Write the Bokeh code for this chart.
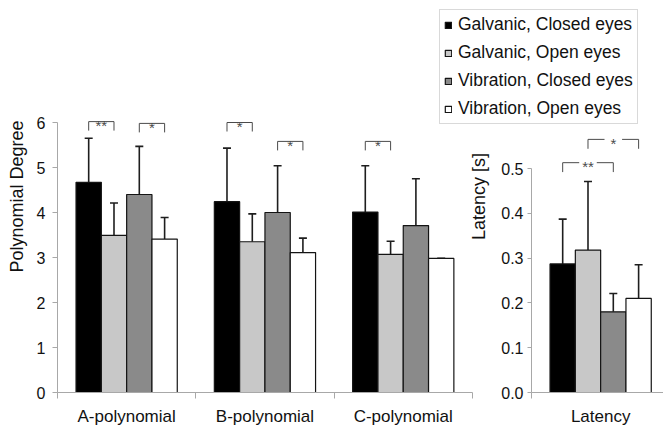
from bokeh.plotting import figure
from bokeh.models import (ColumnDataSource, FixedTicker, Whisker, TeeHead, Legend,
                          LegendItem, PrintfTickFormatter, Range1d)
from bokeh.layouts import row
from bokeh.embed import file_html
from bokeh.resources import INLINE
from bokeh.core.properties import value

# ---------------- data ----------------
categories = ["A-polynomial", "B-polynomial", "C-polynomial"]
series_names = ["Galvanic, Closed eyes", "Galvanic, Open eyes",
                "Vibration, Closed eyes", "Vibration, Open eyes"]

galv_closed = [4.67, 4.24, 4.01]
galv_closed_sd = [0.98, 1.19, 1.03]
galv_open = [3.49, 3.35, 3.07]
galv_open_sd = [0.72, 0.62, 0.29]
vib_closed = [4.40, 4.00, 3.71]
vib_closed_sd = [1.07, 1.04, 1.04]
vib_open = [3.41, 3.11, 2.98]
vib_open_sd = [0.48, 0.32, 0.0]

latency_category = ["Latency"]
latency = [0.287, 0.318, 0.180, 0.210]
latency_sd = [0.100, 0.153, 0.041, 0.075]

poly_y_ticks = [0, 1, 2, 3, 4, 5, 6]
lat_y_ticks = [0.0, 0.1, 0.2, 0.3, 0.4, 0.5]

# significance brackets: (category index, bar i, bar j, height, label)
poly_sig = [(0, 0, 1, 6.02, "**"), (0, 2, 3, 5.98, "*"), (1, 0, 1, 6.00, "*"),
            (1, 2, 3, 5.58, "*"), (2, 0, 1, 5.58, "*")]
lat_sig = [(0, 0, 2, 0.513, "**"), (0, 1, 3, 0.565, "*")]

poly_values = [galv_closed, galv_open, vib_closed, vib_open]
poly_sds = [galv_closed_sd, galv_open_sd, vib_closed_sd, vib_open_sd]

# ---------------- styles ----------------
FONT = "Liberation Sans"
FILLS = ["#000000", "#c8c8c8", "#8a8a8a", "#ffffff"]
OFFSETS = [-0.2745, -0.0915, 0.0915, 0.2745]
BAR_W = 0.183
AXIS_COL = "#a8a8a8"
ERR_COL = "#1e1e1e"
SIG_COL = "#4a4a4a"
PX_PER_CAT = 138.3

TOTAL_W = 663
FRAME_H = 392      # frame spans y 0..392 of the page
BOTTOM = 36
P1_LEFT = 57       # polynomial y axis position
P2_AXIS = 531      # latency y axis position
P2_START = 463     # left edge of the overlaid latency canvas


def style_axes(p):
    p.xgrid.visible = False
    p.ygrid.visible = False
    p.outline_line_color = None
    for ax in p.xaxis + p.yaxis:
        ax.axis_line_color = AXIS_COL
        ax.major_tick_line_color = AXIS_COL
        ax.minor_tick_line_color = AXIS_COL
        ax.major_label_text_font = FONT
        ax.major_label_text_color = "#111111"
        ax.axis_label_text_font = FONT
        ax.axis_label_text_font_style = "normal"
        ax.axis_label_text_font_size = "18px"
        ax.axis_label_text_color = "#111111"
    for ax in p.xaxis:
        ax.major_tick_out = 0
        ax.major_tick_in = 0
        ax.minor_tick_out = 6
        ax.minor_tick_in = 0
        ax.major_label_text_font_size = "17px"
        ax.major_label_standoff = 8
    for ax in p.yaxis:
        ax.major_tick_in = 0
        ax.minor_tick_line_color = None
        ax.major_label_text_font_size = "16px"


def add_brackets(p, sig, centers_of, leg, gap, text_off):
    x0s, y0s, x1s, y1s = [], [], [], []
    tx, ty, tt = [], [], []
    for (c, i, j, h, lab) in sig:
        xa, xb = centers_of(c, i), centers_of(c, j)
        xm = (xa + xb) / 2
        x0s += [xa, xb]
        y0s += [h - leg, h - leg]
        x1s += [xa, xb]
        y1s += [h, h]
        if gap > 0:
            x0s += [xa, xm + gap / 2]
            x1s += [xm - gap / 2, xb]
            y0s += [h, h]
            y1s += [h, h]
        else:
            x0s.append(xa)
            x1s.append(xb)
            y0s.append(h)
            y1s.append(h)
        tx.append(xm)
        ty.append(h)
        tt.append(lab)
    p.segment(x0=x0s, y0=y0s, x1=x1s, y1=y1s, line_color=SIG_COL, line_width=1)
    p.text(x=tx, y=ty, text=tt, text_font=value(FONT), text_font_size="15px",
           text_align="center", text_baseline="alphabetic", y_offset=text_off,
           text_color=SIG_COL)


# ---------------- polynomial panel (also holds the legend) ----------------
p1_frame_w = TOTAL_W - P1_LEFT
p1 = figure(frame_width=p1_frame_w, frame_height=FRAME_H,
            x_range=Range1d(0, p1_frame_w / PX_PER_CAT),
            y_range=Range1d(0, FRAME_H / 45.0),
            min_border_left=P1_LEFT, min_border_right=0, min_border_top=0,
            min_border_bottom=BOTTOM, output_backend="svg", toolbar_location=None)

items = []
for s in range(4):
    xs = [i + 0.5 + OFFSETS[s] for i in range(len(categories))]
    vals = poly_values[s]
    ups = [v + e for v, e in zip(vals, poly_sds[s])]
    src = ColumnDataSource(dict(x=xs, top=vals, upper=ups))
    r = p1.vbar(x="x", top="top", bottom=0, width=BAR_W, source=src,
                fill_color=FILLS[s], line_color="#141414", line_width=1.2)
    p1.add_layout(Whisker(source=src, base="x", upper="upper", lower="top",
                          dimension="height", line_color=ERR_COL, line_width=1.6,
                          upper_head=TeeHead(size=8, line_color=ERR_COL, line_width=1.6),
                          lower_head=None))
    items.append(LegendItem(label=series_names[s], renderers=[r]))

add_brackets(p1, poly_sig, lambda c, i: c + 0.5 + OFFSETS[i], leg=0.2, gap=0, text_off=4)

p1.yaxis.axis_label = "Polynomial Degree"
p1.yaxis.ticker = FixedTicker(ticks=poly_y_ticks)
p1.yaxis.bounds = (poly_y_ticks[0], poly_y_ticks[-1])
p1.yaxis.major_tick_out = 5
p1.yaxis.major_label_standoff = 7
p1.yaxis.axis_label_standoff = 7
p1.xaxis.ticker = FixedTicker(ticks=[i + 0.5 for i in range(len(categories))],
                              minor_ticks=list(range(len(categories) + 1)))
p1.xaxis.major_label_overrides = {i + 0.5: c for i, c in enumerate(categories)}
p1.xaxis.bounds = (0, len(categories))
style_axes(p1)

legend = Legend(items=items, location=(439 - P1_LEFT, FRAME_H - 124), margin=0,
                padding=4, spacing=7, label_height=21, glyph_width=8, glyph_height=8,
                label_standoff=6, label_text_font=FONT, label_text_font_size="17.5px",
                label_text_color="#111111", border_line_color="#b4b4b4",
                border_line_width=1, background_fill_color="white",
                background_fill_alpha=1.0)
p1.add_layout(legend)

# ---------------- latency panel (overlaid, transparent) ----------------
p2_border = P2_AXIS - P2_START
p2_frame_w = TOTAL_W - P2_AXIS
p2 = figure(frame_width=p2_frame_w, frame_height=FRAME_H,
            x_range=Range1d(0, p2_frame_w / PX_PER_CAT),
            y_range=Range1d(0, FRAME_H / 448.0),
            min_border_left=p2_border, min_border_right=0, min_border_top=0,
            min_border_bottom=BOTTOM, output_backend="svg", toolbar_location=None,
            background_fill_color=None, border_fill_color=None)

for s in range(4):
    src = ColumnDataSource(dict(x=[0.5 + OFFSETS[s]], top=[latency[s]],
                                upper=[latency[s] + latency_sd[s]]))
    p2.vbar(x="x", top="top", bottom=0, width=BAR_W, source=src,
            fill_color=FILLS[s], line_color="#141414", line_width=1.2)
    p2.add_layout(Whisker(source=src, base="x", upper="upper", lower="top",
                          dimension="height", line_color=ERR_COL, line_width=1.6,
                          upper_head=TeeHead(size=8, line_color=ERR_COL, line_width=1.6),
                          lower_head=None))

add_brackets(p2, lat_sig, lambda c, i: c + 0.5 + OFFSETS[i], leg=0.021, gap=0.127, text_off=4)

p2.yaxis.axis_label = "Latency [s]"
p2.yaxis.ticker = FixedTicker(ticks=lat_y_ticks)
p2.yaxis.bounds = (lat_y_ticks[0], lat_y_ticks[-1])
p2.yaxis.formatter = PrintfTickFormatter(format="%.1f")
p2.yaxis.major_tick_out = 4
p2.yaxis.major_label_standoff = 4
p2.yaxis.axis_label_standoff = 9
p2.xaxis.ticker = FixedTicker(ticks=[0.5], minor_ticks=[0, 1])
p2.xaxis.major_label_overrides = {0.5: latency_category[0]}
style_axes(p2)

p2_width = p2_border + p2_frame_w
p2.margin = (0, 0, 0, -p2_width)

layout = row(p1, p2)
open("out.html", "w").write(file_html(layout, INLINE))
